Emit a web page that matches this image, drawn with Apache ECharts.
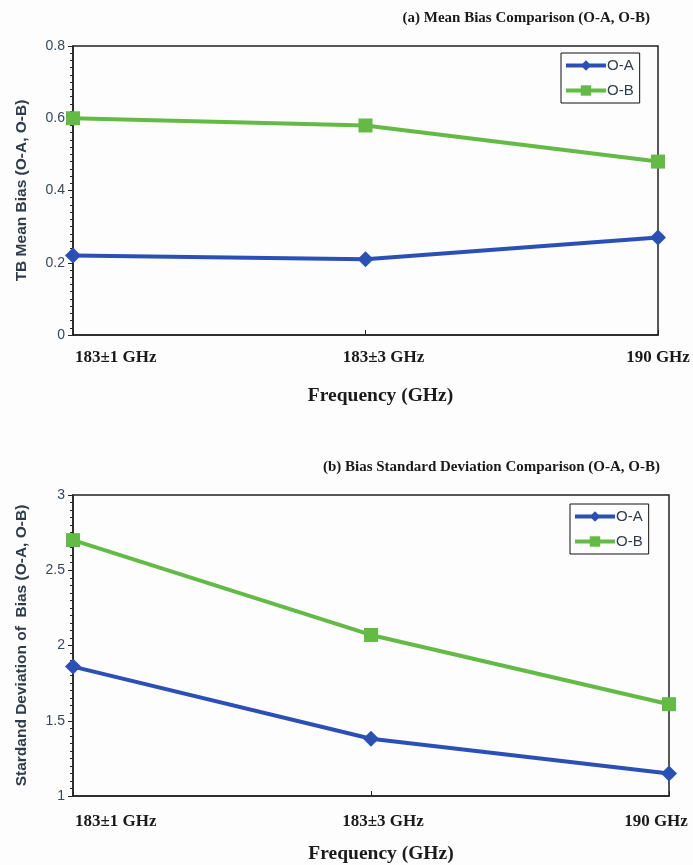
<!DOCTYPE html>
<html><head><meta charset="utf-8">
<script src="https://cdn.jsdelivr.net/npm/echarts@6/dist/echarts.min.js"></script>
<style>html,body{margin:0;padding:0;background:#fdfdfd}#c{width:693px;height:865px}</style>
</head><body><div id="c"></div>
<script>
const categories = ['183±1 GHz', '183±3 GHz', '190 GHz'];
const meanOA = [0.22, 0.21, 0.27];
const meanOB = [0.60, 0.58, 0.48];
const stdOA = [1.86, 1.38, 1.15];
const stdOB = [2.70, 2.07, 1.61];
const titleA = '(a) Mean Bias Comparison (O-A, O-B)';
const titleB = '(b) Bias Standard Deviation Comparison (O-A, O-B)';
const yNameA = 'TB Mean Bias (O-A, O-B)';
const yNameB = 'Stardand Deviation of  Bias (O-A, O-B)';
const xName = 'Frequency (GHz)';

const blue = '#2b50b5', green = '#63bb45';
const serif = 'Liberation Serif', sans = 'Liberation Sans';

function catData(midPad, lastPad) {
  return categories.map((c, i) => {
    if (i === 0) return { value: c, textStyle: { align: 'left', padding: [0, 0, 0, 2] } };
    if (i === 1) return { value: c, textStyle: { padding: [0, 0, 0, midPad] } };
    return { value: c, textStyle: { padding: [0, lastPad, 0, 0] } };
  });
}
function xAxis(gi, midPad, lastPad, margin, nameGap, namePad) {
  return {
    type: 'category', gridIndex: gi, boundaryGap: false, data: catData(midPad, lastPad),
    axisLine: { lineStyle: { color: '#222', width: 1.5 } },
    axisTick: { show: true, inside: true, length: 5, lineStyle: { color: '#222' }, interval: 0 },
    axisLabel: { interval: 0, fontFamily: serif, fontWeight: 'bold', fontSize: 17, color: '#1a1a1a', margin: margin },
    name: xName, nameLocation: 'middle', nameGap: nameGap,
    nameTextStyle: { fontFamily: serif, fontWeight: 'bold', fontSize: 19.5, color: '#1a1a1a', padding: [0, 0, 0, namePad] }
  };
}
function yAxis(gi, min, max, interval, name, fs) {
  return {
    type: 'value', gridIndex: gi, min: min, max: max, interval: interval,
    axisLine: { show: true, lineStyle: { color: '#222', width: 1.5 } },
    axisTick: { show: true, length: 5, lineStyle: { color: '#222' } },
    minorTick: { show: true, splitNumber: 10, length: 3, lineStyle: { color: '#222' } },
    splitLine: { show: false },
    axisLabel: { fontFamily: sans, fontSize: 14, color: '#34485c', margin: 8 },
    name: name, nameLocation: 'middle', nameGap: 43, nameRotate: 90,
    nameTextStyle: { fontFamily: sans, fontWeight: 'bold', fontSize: fs, color: '#2f3c4c' }
  };
}
function legend(left, top) {
  return {
    data: ['O-A', 'O-B'], orient: 'vertical', left: left, top: top,
    borderColor: '#111', borderWidth: 1, padding: [5, 6, 5, 3], itemGap: 10,
    itemWidth: 40, itemHeight: 13,
    lineStyle: { width: 4 },
    textStyle: { fontFamily: sans, fontSize: 15, color: '#2f3c4c', padding: [0, 0, 0, -4] }
  };
}
function line(name, gi, data, symbol, color) {
  return {
    name: name, type: 'line', xAxisIndex: gi, yAxisIndex: gi, data: data,
    symbol: symbol, symbolSize: symbol === 'diamond' ? 16 : 14,
    lineStyle: { color: color, width: 4 }, itemStyle: { color: color }
  };
}

const chart = echarts.init(document.getElementById('c'));
chart.setOption({
  backgroundColor: '#fdfdfd',
  animation: false,
  title: [
    { text: titleA, right: 38, top: 6, textStyle: { fontFamily: serif, fontWeight: 'bold', fontSize: 15, color: '#1a1a1a' } },
    { text: titleB, right: 28, top: 455, textStyle: { fontFamily: serif, fontWeight: 'bold', fontSize: 15, color: '#1a1a1a' } }
  ],
  grid: [
    { left: 73, top: 46, width: 585, height: 289, show: true, borderColor: '#222', borderWidth: 1.5, backgroundColor: 'transparent' },
    { left: 73, top: 495, width: 596, height: 301, show: true, borderColor: '#222', borderWidth: 1.5, backgroundColor: 'transparent' }
  ],
  legend: [legend(561, 53), legend(570, 504)],
  xAxis: [xAxis(0, 36, 0, 14, 51, 30), xAxis(1, 24, 26, 17, 48, 20)],
  yAxis: [yAxis(0, 0, 0.8, 0.2, yNameA, 15.5), yAxis(1, 1, 3, 0.5, yNameB, 15.5)],
  series: [
    line('O-A', 0, meanOA, 'diamond', blue),
    line('O-B', 0, meanOB, 'rect', green),
    line('O-A', 1, stdOA, 'diamond', blue),
    line('O-B', 1, stdOB, 'rect', green)
  ]
});
</script></body></html>
